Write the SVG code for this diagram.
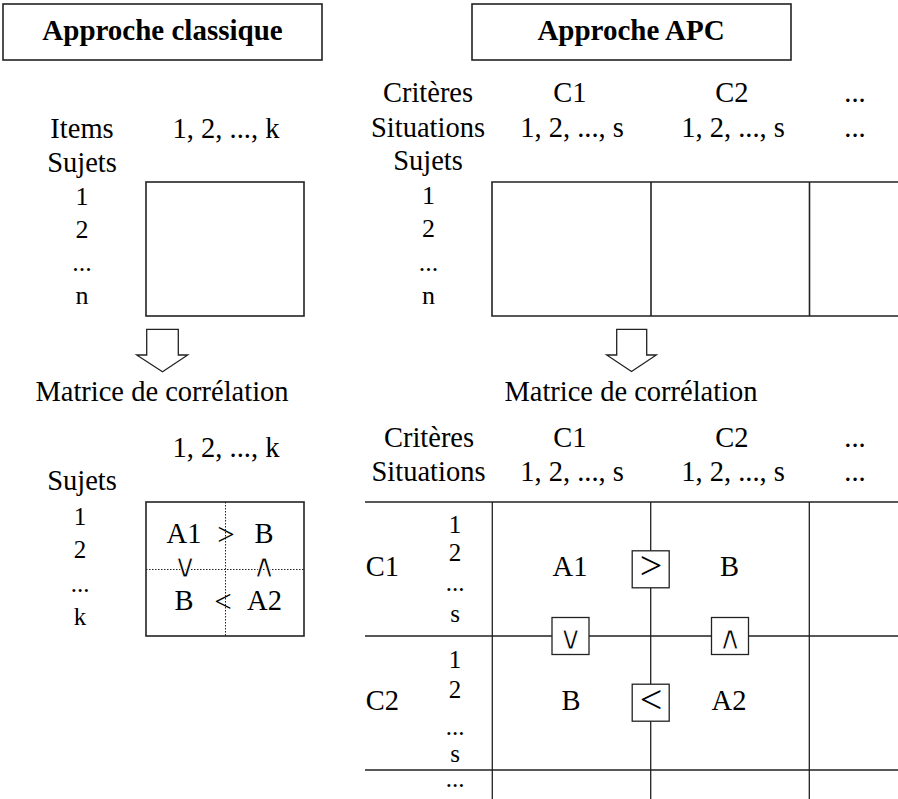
<svg xmlns="http://www.w3.org/2000/svg" width="898" height="799" viewBox="0 0 898 799">
<style>
text{font-family:"Liberation Serif","Times New Roman",serif;fill:#000;text-anchor:middle}
.t{font-size:29px;font-weight:bold}
.r{font-size:28.5px}
.n{font-size:26px}
.ns{font-size:25px}
.sym{font-size:40px}
.syms{font-size:31px}
.lg{font-family:"DejaVu Sans","Liberation Sans",sans-serif;font-size:33px;stroke:#fff;stroke-width:1.1px}
.box{fill:none;stroke:#222;stroke-width:1.6}
.ln{fill:none;stroke:#222;stroke-width:1.3}
.dot{fill:none;stroke:#222;stroke-width:1;stroke-dasharray:1.5 1.5}
.sb{fill:#fff;stroke:#222;stroke-width:1.3}
.arr{fill:#fff;stroke:#222;stroke-width:1.3;stroke-linejoin:miter}
</style>
<rect width="898" height="799" fill="#fff"/>

<g id="title-classique">
<rect class="box" x="3" y="4" width="319" height="56"/>
<text class="t" x="162.5" y="40">Approche classique</text>
</g>
<g id="title-apc">
<rect class="box" x="472" y="4" width="319" height="56"/>
<text class="t" x="631" y="40">Approche APC</text>
</g>

<g id="classique-data">
<text class="r" x="82" y="138">Items</text>
<text class="r" x="226" y="138">1, 2, ..., k</text>
<text class="r" x="82" y="172">Sujets</text>
<text class="n" x="82" y="205">1</text>
<text class="n" x="82" y="238">2</text>
<text class="n" x="82" y="271">...</text>
<text class="n" x="82" y="304">n</text>
<rect class="box" x="146" y="182" width="158" height="134"/>
</g>

<g id="apc-data">
<text class="r" x="428" y="102">Critères</text>
<text class="r" x="428" y="137">Situations</text>
<text class="r" x="428" y="170">Sujets</text>
<text class="r" x="570" y="102">C1</text>
<text class="r" x="572" y="137">1, 2, ..., s</text>
<text class="r" x="732" y="102">C2</text>
<text class="r" x="733" y="137">1, 2, ..., s</text>
<text class="r" x="855" y="102">...</text>
<text class="r" x="855" y="137">...</text>
<text class="n" x="428.5" y="204">1</text>
<text class="n" x="428.5" y="237">2</text>
<text class="n" x="428.5" y="271">...</text>
<text class="n" x="428.5" y="304">n</text>
<path class="box" d="M898 182H492V316H898M651 182V316M809.5 182V316"/>
</g>

<g id="connectors">
<polygon class="arr" points="146.7,329.3 178.3,329.3 178.3,355 187.7,355 162.5,371.7 136.7,355 146.7,355"/>
<polygon class="arr" points="616.7,329.3 646.7,329.3 646.7,355 656.3,355 631.5,371.5 606.7,355 616.7,355"/>
</g>

<g id="classique-corr">
<text class="r" x="162" y="400.5">Matrice de corrélation</text>
<text class="r" x="226" y="456.5">1, 2, ..., k</text>
<text class="r" x="82" y="490">Sujets</text>
<text class="ns" x="80" y="525">1</text>
<text class="ns" x="80" y="558">2</text>
<text class="ns" x="80" y="592">...</text>
<text class="ns" x="80" y="625">k</text>
<rect class="box" x="146" y="502" width="158" height="134"/>
<path class="dot" d="M225.5 502V636M146 569.5H304"/>
<text class="r" x="184" y="543">A1</text>
<text class="syms" x="226" y="545">&gt;</text>
<text class="r" x="264" y="543">B</text>
<text class="lg" x="185" y="577">∨</text>
<text class="lg" x="264" y="577">∧</text>
<text class="r" x="184" y="609.5">B</text>
<text class="syms" x="223" y="612">&lt;</text>
<text class="r" x="264.5" y="609.5">A2</text>
</g>

<g id="apc-corr">
<text class="r" x="631" y="400.5">Matrice de corrélation</text>
<text class="r" x="429" y="446.5">Critères</text>
<text class="r" x="428.5" y="480.5">Situations</text>
<text class="r" x="570" y="446.5">C1</text>
<text class="r" x="572" y="480.5">1, 2, ..., s</text>
<text class="r" x="732" y="446.5">C2</text>
<text class="r" x="733" y="480.5">1, 2, ..., s</text>
<text class="r" x="855" y="446.5">...</text>
<text class="r" x="855" y="480.5">...</text>
<path class="ln" d="M365 502H898M365 636H898M365 770H898M492.3 502V799M650.7 502V799M809.3 502V799"/>
<text class="r" x="382.5" y="576">C1</text>
<text class="ns" x="455" y="533">1</text>
<text class="ns" x="455" y="561">2</text>
<text class="ns" x="455" y="591">...</text>
<text class="ns" x="455" y="621.5">s</text>
<text class="r" x="382.5" y="710">C2</text>
<text class="ns" x="455" y="668">1</text>
<text class="ns" x="455" y="698">2</text>
<text class="ns" x="455" y="735">...</text>
<text class="ns" x="455" y="761.5">s</text>
<text class="ns" x="455" y="787">...</text>
<text class="r" x="570" y="576">A1</text>
<text class="r" x="729.5" y="576">B</text>
<text class="r" x="571" y="710">B</text>
<text class="r" x="729" y="710">A2</text>
</g>

<g id="rel-gt">
<rect class="sb" x="632.2" y="550.8" width="37" height="37"/>
<text class="sym" x="651" y="579">&gt;</text>
</g>
<g id="rel-lt">
<rect class="sb" x="632.2" y="684.2" width="37" height="37"/>
<text class="sym" x="651" y="712.5">&lt;</text>
</g>
<g id="rel-or">
<rect class="sb" x="552" y="617.5" width="37" height="37"/>
<text class="lg" x="570.5" y="648.5">∨</text>
</g>
<g id="rel-and">
<rect class="sb" x="711.5" y="617.5" width="37" height="37"/>
<text class="lg" x="730" y="648.5">∧</text>
</g>
</svg>
